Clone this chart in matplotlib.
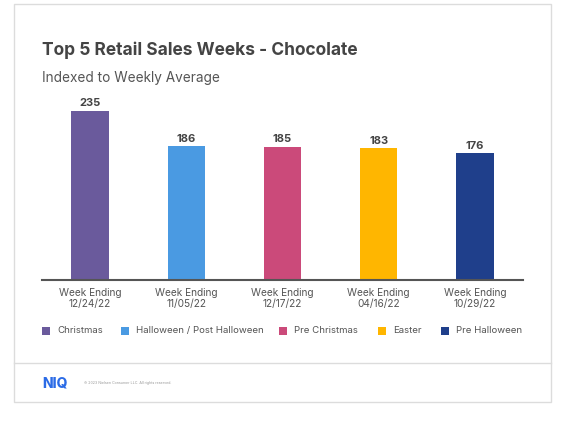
import matplotlib
matplotlib.use("Agg")
import matplotlib.pyplot as plt
from matplotlib.patches import Rectangle
from matplotlib.lines import Line2D

plt.rcParams['font.family'] = ['Inter', 'DejaVu Sans']

categories = ["Week Ending\n12/24/22", "Week Ending\n11/05/22", "Week Ending\n12/17/22",
              "Week Ending\n04/16/22", "Week Ending\n10/29/22"]
series_names = ["Christmas", "Halloween / Post Halloween", "Pre Christmas", "Easter", "Pre Halloween"]
values = [235, 186, 185, 183, 176]
colors = ["#6A5A9C", "#4A9AE2", "#CB4A7A", "#FFB600", "#1F3F8B"]

W, H = 583, 440
fig = plt.figure(figsize=(W / 100, H / 100), dpi=100)

def fx(px):
    return px / W

def fy(py):
    return 1 - py / H

# card
fig.patches.append(Rectangle((fx(14), fy(402)), fx(551) - fx(14), fy(4) - fy(402),
                             transform=fig.transFigure, facecolor="white",
                             edgecolor="#DCDCDC", linewidth=1, zorder=-5))
fig.lines.append(Line2D([fx(14), fx(551)], [fy(363), fy(363)], transform=fig.transFigure,
                        color="#DCDCDC", linewidth=1, zorder=-4))

ax_left, ax_right, ax_top, ax_bottom = 42, 523, 100, 280
ax = fig.add_axes([fx(ax_left), fy(ax_bottom), fx(ax_right) - fx(ax_left), fy(ax_top) - fy(ax_bottom)])
ax.set_zorder(5)
scale = 169 / 235.0
ax.set_ylim(0, (ax_bottom - ax_top) / scale)
ax.set_xlim(-0.5, len(values) - 0.5)

x = list(range(len(values)))
bars = ax.bar(x, values, width=0.39, color=colors, zorder=2)
for xi, v in zip(x, values):
    ax.text(xi, v + 3.5, str(v), ha="center", va="bottom", fontsize=8,
            fontweight="bold", color="#444444")

ax.set_xticks(x)
ax.set_xticklabels(categories, fontsize=7.3, color="#555555", linespacing=1.05)
ax.tick_params(axis="x", length=0, pad=6)
ax.set_yticks([])
for s in ["top", "right", "left"]:
    ax.spines[s].set_visible(False)
ax.spines["bottom"].set_color("#555555")
ax.spines["bottom"].set_linewidth(1.5)
ax.patch.set_alpha(0)

# titles
fig.text(fx(42), fy(50), "Top 5 Retail Sales Weeks - Chocolate", fontsize=12.5,
         fontweight="bold", color="#444444", va="center", ha="left")
fig.text(fx(42), fy(78), "Indexed to Weekly Average", fontsize=9.8,
         color="#555555", va="center", ha="left")

# legend
leg_x = [42, 121, 279, 378, 441]
for lx, name, c in zip(leg_x, series_names, colors):
    fig.patches.append(Rectangle((fx(lx), fy(335)), fx(8), 8 / H, transform=fig.transFigure,
                                 facecolor=c, edgecolor="none"))
    fig.text(fx(lx + 15), fy(330.5), name, fontsize=6.95, color="#555555", va="center", ha="left")

# footer
fig.text(fx(42), fy(383), "NIQ", fontsize=10, fontweight="heavy", color="#2B6BE6",
         va="center", ha="left")
fig.text(fx(84), fy(383), "© 2023 Nielsen Consumer LLC. All rights reserved.", fontsize=2.6,
         color="#999999", va="center", ha="left")

fig.savefig("out.png", dpi=100, facecolor="white")
